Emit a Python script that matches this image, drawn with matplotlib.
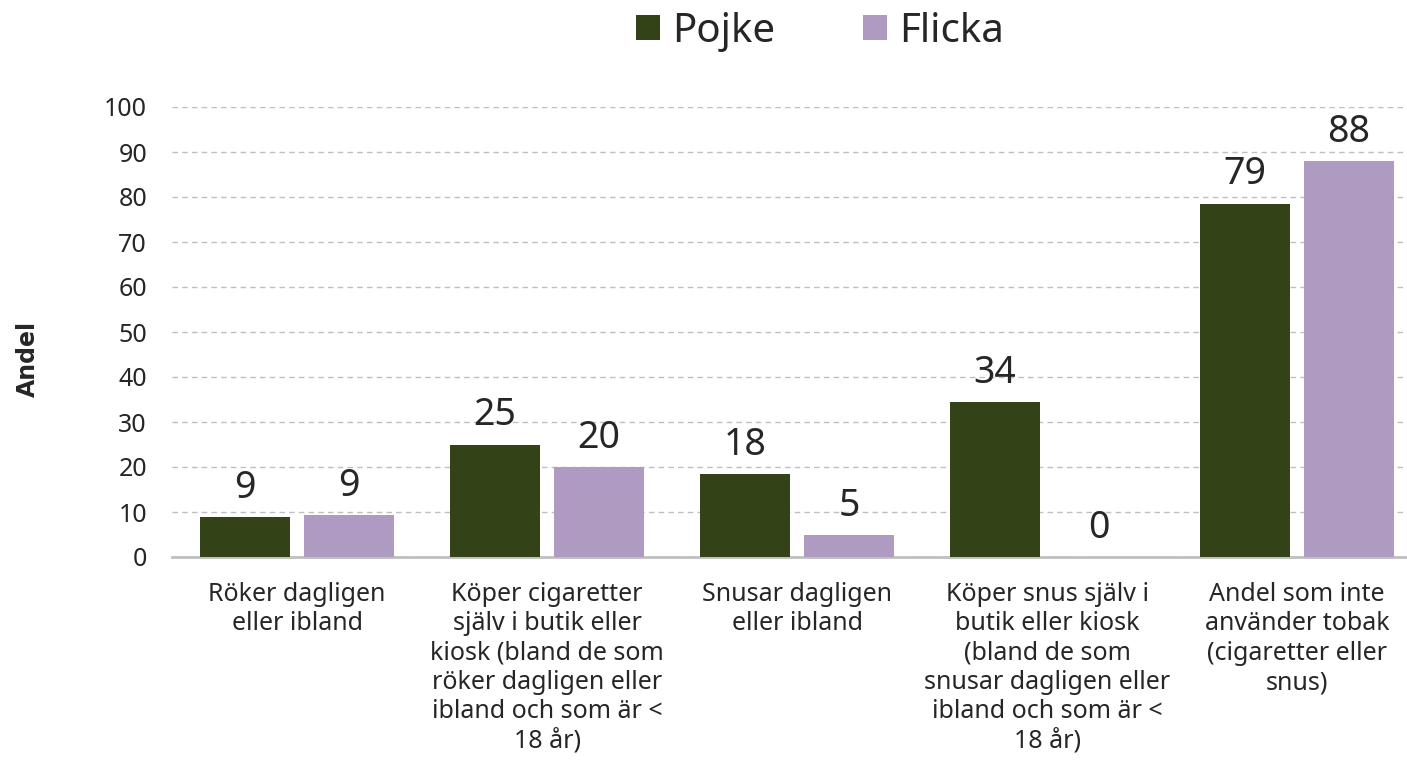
import numpy as np
import matplotlib
matplotlib.use("Agg")
import matplotlib.pyplot as plt

# ---------------------------------------------------------------------------
# Data
# ---------------------------------------------------------------------------
CATEGORIES = [
    "Röker dagligen\neller ibland",
    "Köper cigaretter\nsjälv i butik eller\nkiosk (bland de som\nröker dagligen eller\nibland och som är <\n18 år)",
    "Snusar dagligen\neller ibland",
    "Köper snus själv i\nbutik eller kiosk\n(bland de som\nsnusar dagligen eller\nibland och som är <\n18 år)",
    "Andel som inte\nanvänder tobak\n(cigaretter eller\nsnus)",
]
POJKE = [8.9, 25.0, 18.4, 34.4, 78.5]
FLICKA = [9.3, 20.0, 4.9, 0.0, 88.0]
POJKE_LABELS = ["9", "25", "18", "34", "79"]
FLICKA_LABELS = ["9", "20", "5", "0", "88"]
SERIES = ["Pojke", "Flicka"]
Y_TICKS = [0, 10, 20, 30, 40, 50, 60, 70, 80, 90, 100]

COL_POJKE = "#344317"
COL_FLICKA = "#AF9AC2"
GRID_COL = "#BFBFBF"
TEXT_COL = "#262626"

plt.rcParams["font.family"] = ["Noto Sans", "DejaVu Sans"]

fig = plt.figure(figsize=(14.07, 7.70), dpi=100)
ax = fig.add_axes([172 / 1407, 213 / 770, 1235 / 1407, 450 / 770])

x = np.arange(len(CATEGORIES))
w = 0.36
off = 0.208
b1 = ax.bar(x - off, POJKE, w, color=COL_POJKE, label=SERIES[0], zorder=3)
b2 = ax.bar(x + off, FLICKA, w, color=COL_FLICKA, label=SERIES[1], zorder=3)

for bars, labels in ((b1, POJKE_LABELS), (b2, FLICKA_LABELS)):
    for rect, lab in zip(bars, labels):
        ax.annotate(lab, (rect.get_x() + rect.get_width() / 2, rect.get_height()),
                    xytext=(0, 14), textcoords="offset points",
                    ha="center", va="baseline", fontsize=27, color=TEXT_COL)

ax.set_xlim(-0.5, -0.5 + 1235 / 250)
ax.set_ylim(0, 100)
ax.set_yticks(Y_TICKS)
ax.set_xticks(x)
ax.set_xticklabels(CATEGORIES, fontsize=18, color=TEXT_COL, linespacing=1.23)
ax.tick_params(axis="y", labelsize=18, colors=TEXT_COL, length=0, pad=18)
ax.tick_params(axis="x", length=0, pad=18)

ax.yaxis.grid(True, linestyle=(0, (4, 3)), color=GRID_COL, linewidth=1, zorder=0)
ax.set_axisbelow(True)
for s in ("top", "right", "left"):
    ax.spines[s].set_visible(False)
ax.spines["bottom"].set_color(GRID_COL)
ax.spines["bottom"].set_linewidth(2)

fig.text(28 / 1407, 1 - 359 / 770, "Andel", rotation=90, ha="center", va="center",
         fontsize=17, fontweight="bold", family="DejaVu Sans", color=TEXT_COL)

leg = fig.legend(handles=[b1, b2], loc="center", bbox_to_anchor=(820 / 1407, 1 - 32 / 770),
                 ncol=2, frameon=False, fontsize=29, handlelength=0.58, handleheight=0.58,
                 handletextpad=0.3, columnspacing=2.2)
for t in leg.get_texts():
    t.set_color(TEXT_COL)

fig.savefig("out.png", dpi=100)
